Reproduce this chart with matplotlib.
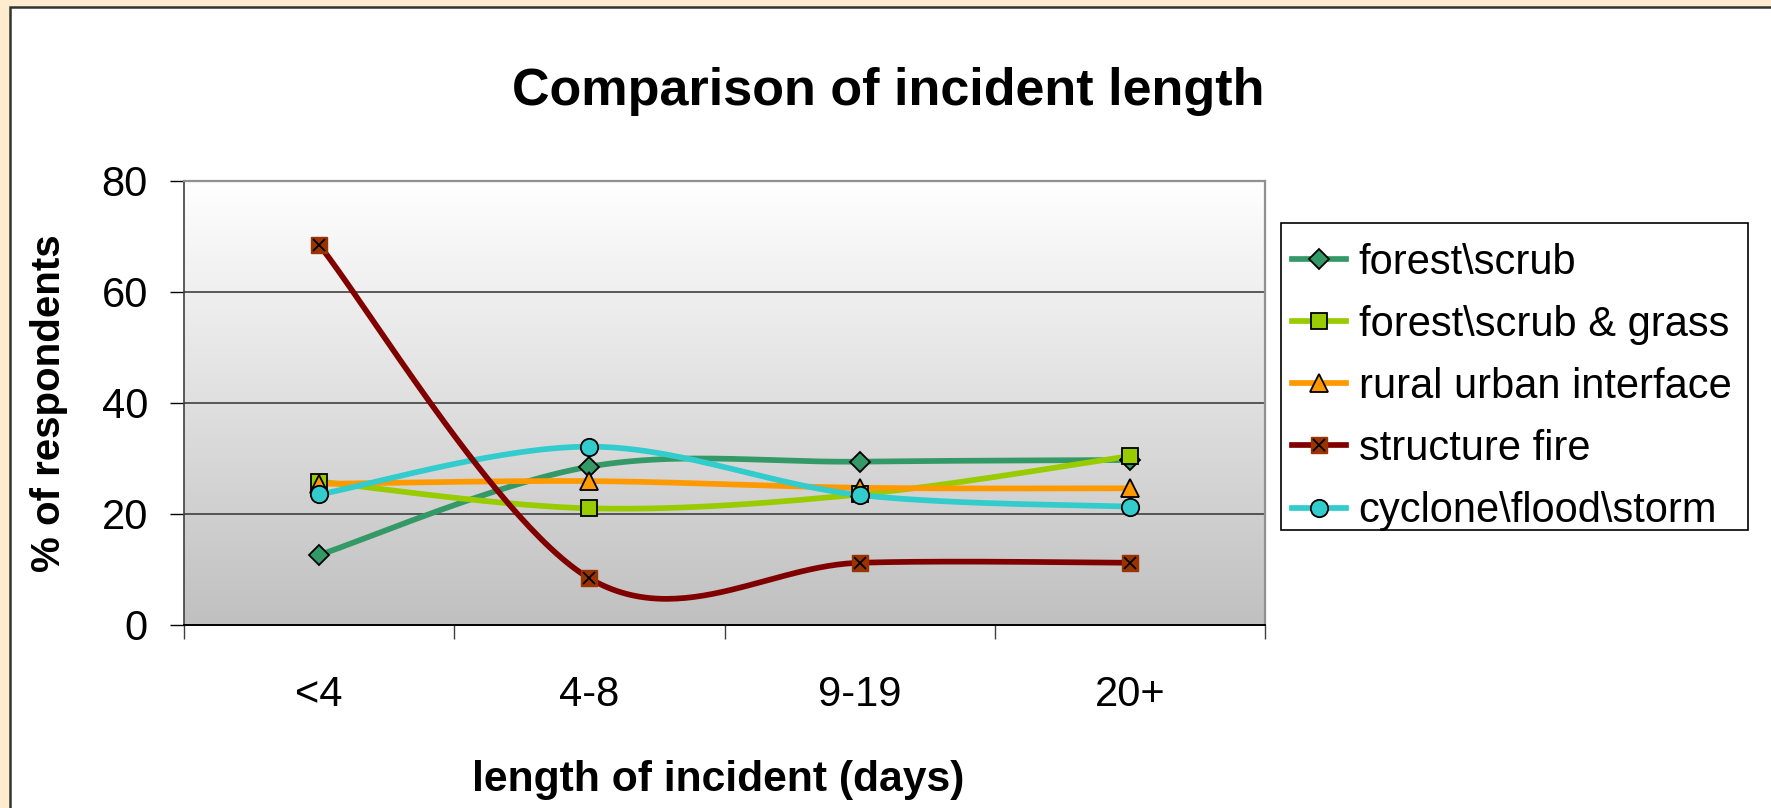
import numpy as np
import matplotlib
matplotlib.use("Agg")
import matplotlib.pyplot as plt
from matplotlib.patches import Rectangle
from matplotlib.lines import Line2D
from matplotlib.colors import LinearSegmentedColormap

# ---- data -------------------------------------------------------------
categories = ["<4", "4-8", "9-19", "20+"]
series_names = [
    "forest\\scrub",
    "forest\\scrub & grass",
    "rural urban interface",
    "structure fire",
    "cyclone\\flood\\storm",
]
forest_scrub = [12.6, 28.5, 29.4, 29.7]
forest_scrub_grass = [25.8, 21.0, 23.5, 30.4]
rural_urban = [25.4, 25.9, 24.7, 24.6]
structure_fire = [68.4, 8.4, 11.2, 11.2]
cyclone_flood = [23.5, 32.1, 23.4, 21.3]
y_ticks = [0, 20, 40, 60, 80]

# ---- styles -----------------------------------------------------------
line_colors = ["#339966", "#99CC00", "#FF9900", "#800000", "#33CCCC"]
marker_faces = ["#339966", "#99CC00", "#FF9900", "#993300", "#33CCCC"]
markers = ["D", "s", "^", "s", "o"]
marker_sizes = [10, 12, 12.5, 12, 12.5]
LW = 4.1

plt.rcParams["font.family"] = ["Liberation Sans", "DejaVu Sans"]

W, H, DPI = 1771, 808, 100
fig = plt.figure(figsize=(W / DPI, H / DPI), dpi=DPI)
fig.patch.set_facecolor("#FFEBCD")

# white chart panel with dark frame
fig.patches.append(Rectangle((10 / W, -0.05), 1.1, 1 - 7 / H + 0.05,
                             transform=fig.transFigure, facecolor="white",
                             edgecolor="#333333", linewidth=1.8, zorder=-5))

ax = fig.add_axes([184 / W, 1 - 625 / H, (1265 - 184) / W, (625 - 180.5) / H])
ax.set_zorder(2)
ax.set_xlim(0, 4)
ax.set_ylim(0, 80)
ax.patch.set_alpha(0)

# vertical grey gradient for the plot area
grad = np.linspace(0, 1, 256).reshape(-1, 1)
cmap = LinearSegmentedColormap.from_list("pa", ["#C0C0C0", "#FFFFFF"])
ax.imshow(grad, extent=[0, 4, 0, 80], origin="lower", aspect="auto",
          cmap=cmap, zorder=0, interpolation="bilinear")

for yv in y_ticks[1:-1]:
    ax.axhline(yv, color="#404040", linewidth=1.2, zorder=1)


def smooth(xs, ys, n=60):
    """Catmull-Rom style Bezier smoothing through the points."""
    pts = np.column_stack([xs, ys]).astype(float)
    m = len(pts)
    out = []
    for i in range(m - 1):
        p0 = pts[i - 1] if i > 0 else pts[i]
        p1 = pts[i]
        p2 = pts[i + 1]
        p3 = pts[i + 2] if i + 2 < m else pts[i + 1]
        c1 = p1 + (p2 - p0) / 6.0
        c2 = p2 - (p3 - p1) / 6.0
        t = np.linspace(0, 1, n)[:, None]
        seg = ((1 - t) ** 3) * p1 + 3 * ((1 - t) ** 2) * t * c1 \
            + 3 * (1 - t) * t ** 2 * c2 + t ** 3 * p2
        out.append(seg if i == 0 else seg[1:])
    arr = np.vstack(out)
    return arr[:, 0], arr[:, 1]


x = np.arange(len(categories)) + 0.5
all_series = [forest_scrub, forest_scrub_grass, rural_urban,
              structure_fire, cyclone_flood]
line_z = [3, 3, 3, 4, 3]
for i, vals in enumerate(all_series):
    sx, sy = smooth(x, vals)
    ax.plot(sx, sy, color=line_colors[i], linewidth=LW,
            solid_capstyle="round", zorder=line_z[i])

for i, vals in enumerate(all_series):
    if i == 3:
        ax.plot(x, vals, linestyle="none", marker="s",
                markersize=marker_sizes[i], markerfacecolor=marker_faces[i],
                markeredgecolor=marker_faces[i], zorder=5 + i)
        ax.plot(x, vals, linestyle="none", marker="x", markersize=8.5,
                markeredgecolor="black", markeredgewidth=1.3, zorder=5 + i)
    else:
        ax.plot(x, vals, linestyle="none", marker=markers[i],
                markersize=marker_sizes[i], markerfacecolor=marker_faces[i],
                markeredgecolor="black", markeredgewidth=1.3, zorder=5 + i)

# axes styling
for side in ["top", "right"]:
    ax.spines[side].set_color("#909090")
    ax.spines[side].set_linewidth(1.6)
ax.spines["left"].set_color("#404040")
ax.spines["left"].set_linewidth(1.2)
ax.spines["bottom"].set_color("black")
ax.spines["bottom"].set_linewidth(1.4)
for s in ax.spines.values():
    s.set_zorder(10)

ax.set_yticks(y_ticks)
ax.set_yticklabels([str(v) for v in y_ticks], fontsize=30)
ax.tick_params(axis="y", direction="out", length=10, width=1, pad=16,
               color="black")

ax.set_xticks(np.arange(len(categories) + 1))
ax.set_xticklabels([])
ax.set_xticks(x, minor=True)
ax.set_xticklabels(categories, minor=True, fontsize=30)
ax.tick_params(axis="x", which="major", direction="out", length=10,
               width=1, color="#404040")
ax.tick_params(axis="x", which="minor", length=0, pad=36)

fig.text(888 / W, 1 - 91 / H, "Comparison of incident length",
         fontsize=37.5, fontweight="bold", ha="center", va="center")
fig.text(718 / W, 1 - 780 / H, "length of incident (days)",
         fontsize=30.7, fontweight="bold", ha="center", va="center")
fig.text(49 / W, 1 - 403 / H, "% of respondents", rotation=90,
         fontsize=29, fontweight="bold", ha="center", va="center")

# legend box
fig.patches.append(Rectangle((1281 / W, 1 - 530 / H), (1748 - 1281) / W,
                             (530 - 223) / H, transform=fig.transFigure,
                             facecolor="white", edgecolor="black",
                             linewidth=1.2, zorder=1))

handles = []
for i in range(len(series_names)):
    if i == 3:
        h = (Line2D([], [], color=line_colors[i], linewidth=LW),
             Line2D([], [], linestyle="none", marker="s",
                    markersize=marker_sizes[i],
                    markerfacecolor=marker_faces[i],
                    markeredgecolor=marker_faces[i]),
             Line2D([], [], linestyle="none", marker="x", markersize=8.5,
                    markeredgecolor="black", markeredgewidth=1.3))
    else:
        h = Line2D([], [], color=line_colors[i], linewidth=LW,
                   marker=markers[i], markersize=marker_sizes[i],
                   markerfacecolor=marker_faces[i], markeredgecolor="black",
                   markeredgewidth=1.3)
    handles.append(h)

leg = fig.legend(handles, series_names, loc="center left",
                 bbox_to_anchor=(1292 / W, 1 - 387 / H), fontsize=30,
                 frameon=False, borderaxespad=0, borderpad=0,
                 handlelength=1.3, handletextpad=0.3, labelspacing=0.53)
leg.set_zorder(3)

fig.savefig("out.png", dpi=DPI, facecolor=fig.get_facecolor())
